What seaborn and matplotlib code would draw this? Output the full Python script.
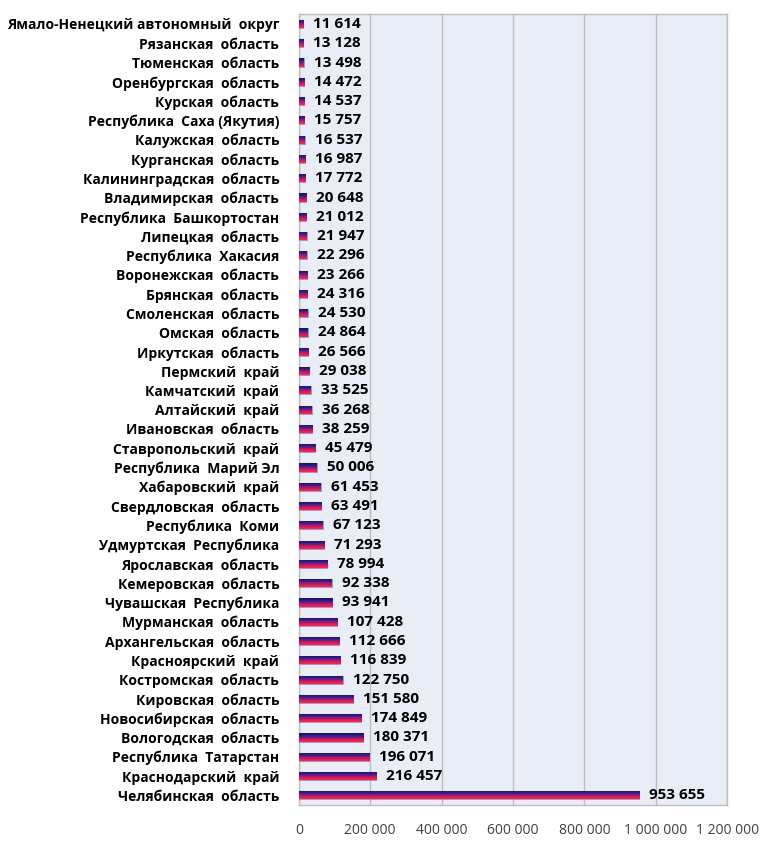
import numpy as np
import pandas as pd
import matplotlib
matplotlib.use('Agg')
import matplotlib.pyplot as plt
import seaborn as sns
from matplotlib.colors import LinearSegmentedColormap

regions = ['Ямало-Ненецкий автономный  округ', 'Рязанская  область', 'Тюменская  область',
           'Оренбургская  область', 'Курская  область', 'Республика  Саха (Якутия)',
           'Калужская  область', 'Курганская  область', 'Калининградская  область',
           'Владимирская  область', 'Республика  Башкортостан', 'Липецкая  область',
           'Республика  Хакасия', 'Воронежская  область', 'Брянская  область',
           'Смоленская  область', 'Омская  область', 'Иркутская  область', 'Пермский  край',
           'Камчатский  край', 'Алтайский  край', 'Ивановская  область', 'Ставропольский  край',
           'Республика  Марий Эл', 'Хабаровский  край', 'Свердловская  область',
           'Республика  Коми', 'Удмуртская  Республика', 'Ярославская  область',
           'Кемеровская  область', 'Чувашская  Республика', 'Мурманская  область',
           'Архангельская  область', 'Красноярский  край', 'Костромская  область',
           'Кировская  область', 'Новосибирская  область', 'Вологодская  область',
           'Республика  Татарстан', 'Краснодарский  край', 'Челябинская  область']
values = [11614, 13128, 13498, 14472, 14537, 15757, 16537, 16987, 17772, 20648, 21012,
          21947, 22296, 23266, 24316, 24530, 24864, 26566, 29038, 33525, 36268, 38259,
          45479, 50006, 61453, 63491, 67123, 71293, 78994, 92338, 93941, 107428, 112666,
          116839, 122750, 151580, 174849, 180371, 196071, 216457, 953655]
x_ticks = [0, 200000, 400000, 600000, 800000, 1000000, 1200000]

df = pd.DataFrame({'region': regions, 'value': values})

sns.set_theme(style='white')
plt.rcParams['font.family'] = ['Open Sans', 'DejaVu Sans']

fig = plt.figure(figsize=(7.68, 8.42), dpi=100)
ax = fig.add_axes([0.389, 0.044, 0.558, 0.939])
ax.set_facecolor('#E9EDF6')

sns.barplot(data=df, x='value', y='region', orient='h', color='#1A1A8C',
            width=0.42, ax=ax, zorder=3)

# gradient fill: navy on top, red at the bottom
cmap = LinearSegmentedColormap.from_list('nr', ['#0D0D7A', '#3A1A9A', '#E0104A', '#F0304A'])
grad = np.linspace(0, 1, 64).reshape(-1, 1)
for p in ax.patches:
    x0, y0 = p.get_x(), p.get_y()
    w, h = p.get_width(), p.get_height()
    p.set_facecolor('none')
    p.set_edgecolor('#5BA0D8')
    p.set_linewidth(0.6)
    im = ax.imshow(grad, cmap=cmap, aspect='auto', extent=[x0, x0 + w, y0 + h, y0],
                   origin='upper', zorder=3, interpolation='bilinear')
    im.set_clip_path(p)

for i, v in enumerate(values):
    ax.text(v + 28000, i, f'{v:,}'.replace(',', ' '), va='center', ha='left',
            fontsize=11, fontweight='bold', color='black', zorder=4)

ax.set_xlim(0, 1200000)
ax.set_ylim(len(values) - 0.5, -0.5)
ax.set_xticks(x_ticks)
ax.set_xticklabels([f'{t:,}'.replace(',', ' ') for t in x_ticks], fontsize=10, color='#404040')
ax.tick_params(axis='x', length=0, pad=13)
ax.tick_params(axis='y', length=0, pad=14)
for lab in ax.get_yticklabels():
    lab.set_fontweight('bold')
    lab.set_fontsize(10)
    lab.set_color('black')
ax.xaxis.grid(True, color='#BEBEBE', linewidth=1, zorder=0)
ax.set_axisbelow(True)
ax.set_xlabel('')
ax.set_ylabel('')
for s in ax.spines.values():
    s.set_color('#BEBEBE')
    s.set_linewidth(1)

fig.savefig('out.png', dpi=100)
